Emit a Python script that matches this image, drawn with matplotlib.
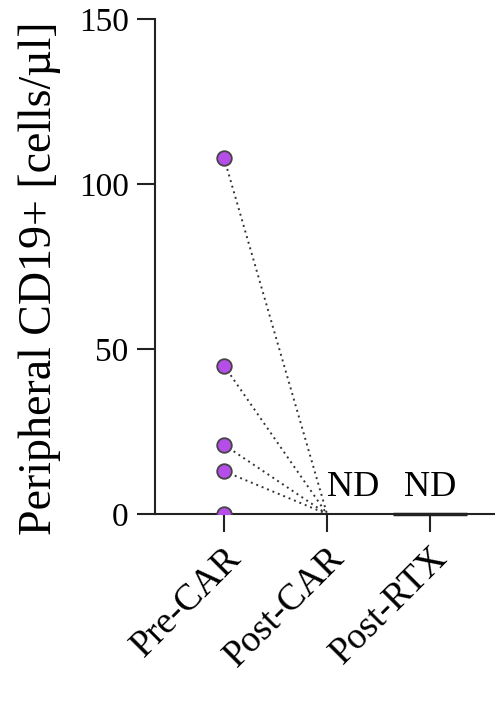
import numpy as np
import matplotlib.pyplot as plt

plt.rcParams['font.family'] = ['Liberation Serif', 'DejaVu Serif']

# data
groups = ['Pre-CAR', 'Post-CAR', 'Post-RTX']
pre_car = [108, 45, 21, 13, 0]
post_car = [0, 0, 0, 0, 0]
post_rtx_median = 0

fig = plt.figure(figsize=(4.95, 7.1), dpi=100)
ax = fig.add_axes([0.313, 0.276, 0.687, 0.697])

# paired dotted lines pre -> post
for a, b in zip(pre_car, post_car):
    ax.plot([0, 1], [a, b], ls=(0, (1, 2.0)), color='#333333', lw=1.4, zorder=2)

ax.scatter(np.zeros(len(pre_car)), pre_car, s=110, color='#B54EE8',
           edgecolor='#444444', linewidth=1.3, zorder=3, clip_on=True)

# median line for Post-RTX
ax.plot([2 - 0.36, 2 + 0.36], [post_rtx_median] * 2, color='#222222', lw=2.5,
        zorder=3, clip_on=False, solid_capstyle='butt')

ax.text(1.0, 3, 'ND', fontsize=26, ha='left', va='bottom')
ax.text(2.0, 3, 'ND', fontsize=26, ha='center', va='bottom')

ax.set_xlim(-0.67, 2.63)
ax.set_ylim(0, 150)
ax.set_yticks([0, 50, 100, 150])
ax.set_xticks([0, 1, 2])
ax.set_xticklabels(groups, rotation=45, ha='right', rotation_mode='anchor',
                   fontsize=27)
ax.set_ylabel('Peripheral CD19+ [cells/µl]', fontsize=33, labelpad=13)
ax.yaxis.label.set_y(0.477)

for s in ['top', 'right']:
    ax.spines[s].set_visible(False)
for s in ['left', 'bottom']:
    ax.spines[s].set_linewidth(1.5)
    ax.spines[s].set_color('#222222')
ax.tick_params(axis='both', length=13, width=1.5, color='#222222')
ax.tick_params(axis='y', labelsize=24, pad=6)
ax.tick_params(axis='x', pad=6)

fig.savefig('out.png', dpi=100)
